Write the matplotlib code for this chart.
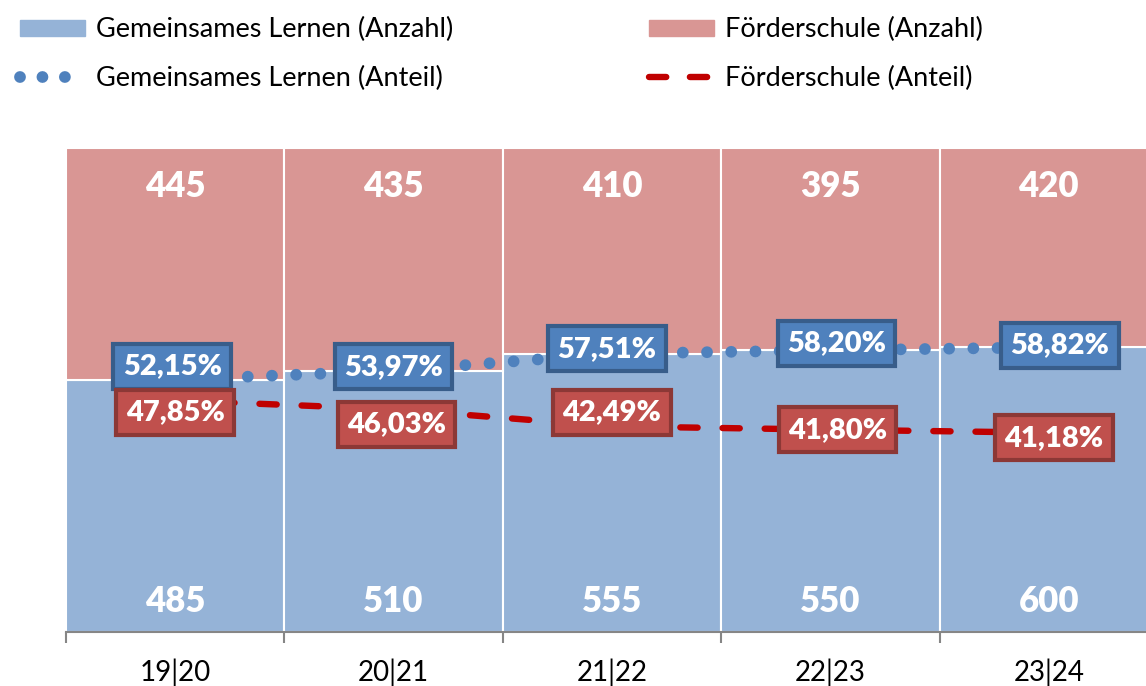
import numpy as np
import matplotlib.pyplot as plt
from matplotlib.lines import Line2D
from matplotlib.patches import Patch

plt.rcParams['font.family'] = ['Lato', 'DejaVu Sans']

jahre = ['19|20', '20|21', '21|22', '22|23', '23|24']
gl_anzahl = [485, 510, 555, 550, 600]
fs_anzahl = [445, 435, 410, 395, 420]
gl_anteil = [52.15, 53.97, 57.51, 58.20, 58.82]
fs_anteil = [47.85, 46.03, 42.49, 41.80, 41.18]

# label shifts in pixels (labels were moved by hand in the original)
gl_shift = [(-3, 13), (0, 4), (-5, 5), (6, 7), (11, 2)]
fs_shift = [(0, -12), (3, -15), (0, 14), (7, 0), (5, -5)]

c_gl_bar = '#95B3D7'
c_fs_bar = '#D99694'
c_gl = '#4F81BD'
c_gl_edge = '#385D8A'
c_fs = '#C0504D'
c_fs_edge = '#8C3836'
c_fs_line = '#C00000'

fig = plt.figure(figsize=(11.46, 6.86), dpi=100)
ax = fig.add_axes([66 / 1146, 54 / 686, (1158 - 66) / 1146, 484 / 686])

x = np.arange(len(jahre))
ax.bar(x, gl_anteil, width=1, color=c_gl_bar, edgecolor='white', linewidth=1.5)
ax.bar(x, fs_anteil, width=1, bottom=gl_anteil, color=c_fs_bar, edgecolor='white', linewidth=1.5)

ax.plot(x, gl_anteil, color=c_gl, lw=8.5, linestyle=(0, (0.001, 2.05)), dash_capstyle='round')
ax.plot(x, fs_anteil, color=c_fs_line, lw=4.6, linestyle=(0, (2.7, 3.9)), dash_capstyle='round')

for i in range(len(jahre)):
    ax.text(x[i], 92.0, str(fs_anzahl[i]), ha='center', va='center', color='white',
            fontsize=25, fontweight='heavy')
    ax.text(x[i], 6.3, str(gl_anzahl[i]), ha='center', va='center', color='white',
            fontsize=25, fontweight='heavy')
    ax.annotate(f'{gl_anteil[i]:.2f}%'.replace('.', ','), (x[i], gl_anteil[i]),
                xytext=gl_shift[i], textcoords='offset pixels', ha='center', va='center',
                color='white', fontsize=21, fontweight='heavy', zorder=5,
                bbox=dict(boxstyle='square,pad=0.32', fc=c_gl, ec=c_gl_edge, lw=3))
for i in range(len(jahre)):
    ax.annotate(f'{fs_anteil[i]:.2f}%'.replace('.', ','), (x[i], fs_anteil[i]),
                xytext=fs_shift[i], textcoords='offset pixels', ha='center', va='center',
                color='white', fontsize=21, fontweight='heavy', zorder=6,
                bbox=dict(boxstyle='square,pad=0.32', fc=c_fs, ec=c_fs_edge, lw=3))

ax.set_xlim(-0.5, 4.5)
ax.set_ylim(0, 100)
ax.set_yticks([])
for s in ['top', 'right', 'left']:
    ax.spines[s].set_visible(False)
ax.spines['bottom'].set_color('#868686')
ax.spines['bottom'].set_linewidth(1.5)
ax.set_xticks(np.arange(-0.5, 5, 1))
ax.set_xticklabels([])
ax.tick_params(axis='x', which='major', length=8, width=1.5, color='#868686')
ax.set_xticks(x, minor=True)
ax.set_xticklabels(jahre, minor=True, fontsize=20)
ax.tick_params(axis='x', which='minor', length=0, pad=19)

h1 = [Patch(color=c_gl_bar),
      Line2D([], [], color=c_gl, lw=8.5, linestyle=(0, (0.001, 1.9)), dash_capstyle='round')]
h2 = [Patch(color=c_fs_bar),
      Line2D([], [], color=c_fs_line, lw=4.6, linestyle=(0, (2.7, 3.7)), dash_capstyle='round')]
leg_kw = dict(loc='upper left', frameon=False, fontsize=19.5, handlelength=2.4,
              handleheight=0.55, handletextpad=0.4, labelspacing=0.86)
fig.legend(h1, ['Gemeinsames Lernen (Anzahl)', 'Gemeinsames Lernen (Anteil)'],
           bbox_to_anchor=(-4 / 1146, 1 + 7 / 686), **leg_kw)
fig.legend(h2, ['Förderschule (Anzahl)', 'Förderschule (Anteil)'],
           bbox_to_anchor=(625 / 1146, 1 + 7 / 686), **leg_kw)

fig.savefig('out.png', dpi=100)
